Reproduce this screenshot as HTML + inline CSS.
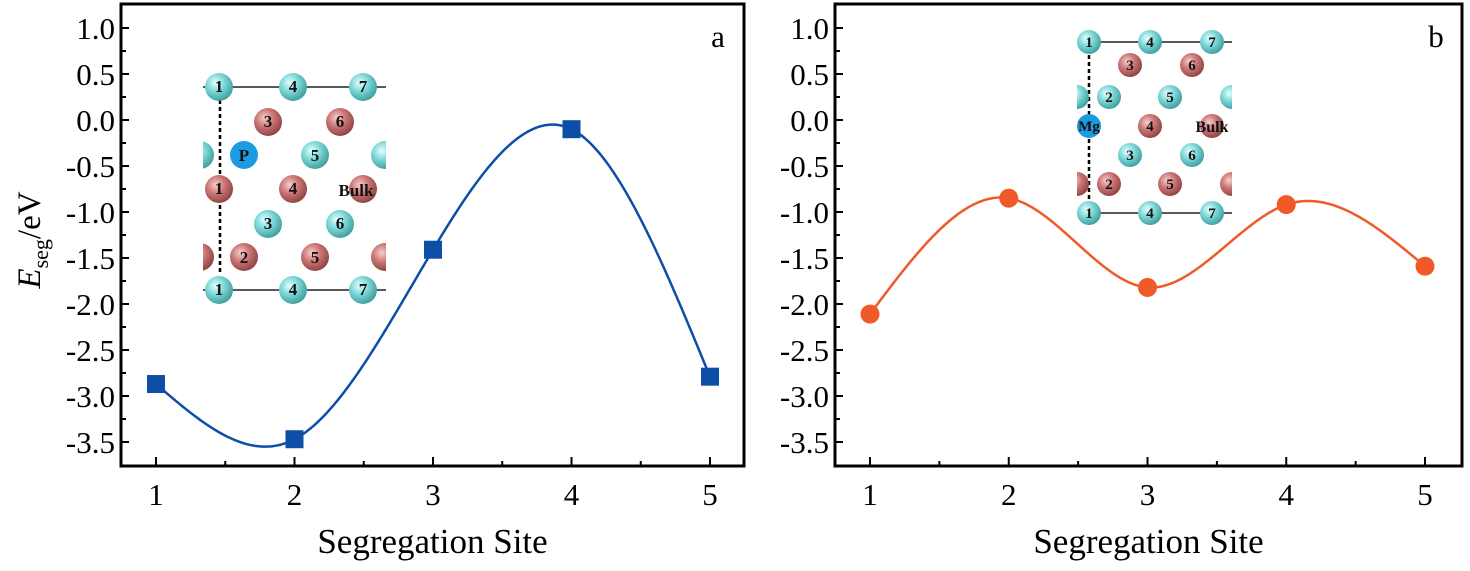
<!DOCTYPE html>
<html><head><meta charset="utf-8"><style>
html,body{margin:0;padding:0;background:#fff;width:1470px;height:571px;overflow:hidden}
svg, svg text{font-family:"Liberation Serif","Times New Roman",serif}
</style></head><body>
<svg id="c" width="1470" height="571" font-family="Liberation Serif, serif" xmlns="http://www.w3.org/2000/svg">
<defs>
<radialGradient id="gc" cx="0.38" cy="0.35" r="0.7"><stop offset="0" stop-color="#e6ffff"/><stop offset="0.45" stop-color="#7fd8d8"/><stop offset="1" stop-color="#3a9a9a"/></radialGradient>
<radialGradient id="gr" cx="0.38" cy="0.35" r="0.7"><stop offset="0" stop-color="#f6d0d0"/><stop offset="0.45" stop-color="#cd7676"/><stop offset="1" stop-color="#8a4040"/></radialGradient>
<clipPath id="clipA"><rect x="203" y="60" width="183" height="250"/></clipPath>
<clipPath id="clipB"><rect x="1077" y="20" width="155" height="210"/></clipPath>
</defs>
</svg>
<script>
const sites=[1,2,3,4,5];
const valuesA=[-2.87,-3.47,-1.41,-0.10,-2.79];
const valuesB=[-2.11,-0.85,-1.82,-0.92,-1.59];
const yTicks=[1.0,0.5,0.0,-0.5,-1.0,-1.5,-2.0,-2.5,-3.0,-3.5];
const yTickLabels=["1.0","0.5","0.0","-0.5","-1.0","-1.5","-2.0","-2.5","-3.0","-3.5"];
const xTickLabels=["1","2","3","4","5"];

const NS="http://www.w3.org/2000/svg";
const svg=document.getElementById('c');
const FONT='Liberation Serif, serif';
function mk(tag,attrs,parent){const e=document.createElementNS(NS,tag);for(const k in attrs)e.setAttribute(k,attrs[k]);if(tag==='text')e.setAttribute('font-family',FONT);(parent||svg).appendChild(e);return e;}
const yScale=v=>120-92*v;

function spline(xs,ys){
  const n=xs.length,h=[],a=[],l=[1],mu=[0],z=[0],c=new Array(n).fill(0),b=[],d=[];
  for(let i=0;i<n-1;i++)h.push(xs[i+1]-xs[i]);
  for(let i=1;i<n-1;i++)a[i]=3/h[i]*(ys[i+1]-ys[i])-3/h[i-1]*(ys[i]-ys[i-1]);
  for(let i=1;i<n-1;i++){l[i]=2*(xs[i+1]-xs[i-1])-h[i-1]*mu[i-1];mu[i]=h[i]/l[i];z[i]=(a[i]-h[i-1]*z[i-1])/l[i];}
  l[n-1]=1;z[n-1]=0;
  for(let j=n-2;j>=0;j--){c[j]=z[j]-mu[j]*c[j+1];b[j]=(ys[j+1]-ys[j])/h[j]-h[j]*(c[j+1]+2*c[j])/3;d[j]=(c[j+1]-c[j])/(3*h[j]);}
  return x=>{let i=0;for(let k=0;k<n-1;k++)if(x>=xs[k]&&x<=xs[k+1]){i=k;break;}const t=x-xs[i];return ys[i]+b[i]*t+c[i]*t*t+d[i]*t*t*t;};
}

function panel(id,left,right,x1,x5,vals,color,marker,letter){
  const g=mk('g',{});
  
  
  const xScale=v=>x1+(v-1)*(x5-x1)/4;
  const frame=mk('rect',{x:left,y:4,width:right-left,height:462,fill:'none',stroke:'#000','stroke-width':3},g);
  
  yTicks.forEach((v,i)=>{
    const y=yScale(v);
    mk('line',{x1:left,x2:left+8,y1:y,y2:y,stroke:'#000','stroke-width':2},g);
    const ym=yScale(v-0.25);
    if(v-0.25>-3.75) mk('line',{x1:left,x2:left+5,y1:ym,y2:ym,stroke:'#000','stroke-width':2},g);
    const t=mk('text',{x:left-6,y:y+11,'text-anchor':'end','font-size':31},g);t.textContent=yTickLabels[i];
    
  });
  sites.forEach((s,i)=>{
    const x=xScale(s);
    mk('line',{x1:x,x2:x,y1:466,y2:457,stroke:'#000','stroke-width':2},g);
    if(i<4){const xm=xScale(s+0.5);mk('line',{x1:xm,x2:xm,y1:466,y2:461,stroke:'#000','stroke-width':2},g);}
    const t=mk('text',{x:x,y:505,'text-anchor':'middle','font-size':31},g);t.textContent=xTickLabels[i];
    
  });
  const f=spline(sites,vals);let d='';
  for(let k=0;k<=400;k++){const v=1+4*k/400;d+=(k?'L':'M')+xScale(v).toFixed(2)+' '+yScale(f(v)).toFixed(2);}
  const p=mk('path',{d:d,fill:'none',stroke:color,'stroke-width':2.5},g);
  
  vals.forEach((v,i)=>{
    const x=xScale(sites[i]),y=yScale(v);let m;
    if(marker==='square')m=mk('rect',{x:x-9,y:y-9,width:18,height:18,fill:color},g);
    else m=mk('circle',{cx:x,cy:y,r:9.5,fill:color},g);
    
  });
  const lt=mk('text',{x:right-26,y:47,'text-anchor':'middle','font-size':31},g);lt.textContent=letter;
  
  const xl=mk('text',{x:(left+right)/2,y:553,'text-anchor':'middle','font-size':35},g);xl.textContent='Segregation Site';
  
}
panel('panel-a',121,744,156,710,valuesA,'#0d4ea6','square','a');
panel('panel-b',835,1462,870,1425,valuesB,'#f05a28','circle','b');

const yl=mk('text',{transform:'translate(40,240) rotate(-90)','text-anchor':'middle','font-size':33});

yl.innerHTML='<tspan font-style="italic">E</tspan><tspan font-size="22" dy="8">seg</tspan><tspan dy="-8">/eV</tspan>';

function inset(name,clip,xs,ys,r,atoms,dashX,dashY1,dashY2,font){
  const g=mk('g',{});
  
  const c=mk('g',{'clip-path':'url(#'+clip+')'},g);
  [ys[0],ys[6]].forEach(y=>mk('line',{x1:xs[0]-20,x2:xs[5]+25,y1:y,y2:y,stroke:'#222','stroke-width':1.5},c));
  mk('line',{x1:dashX,x2:dashX,y1:dashY1,y2:dashY2,stroke:'#000','stroke-width':2.5,'stroke-dasharray':'4 3'},c);
  atoms.forEach(a=>{
    const [ci,ri,type,label]=a;const x=xs[ci],y=ys[ri];
    const fill=type==='c'?'url(#gc)':type==='r'?'url(#gr)':'#1d9be0';
    mk('circle',{cx:x,cy:y,r:r,fill:fill},c);
    if(label){const t=mk('text',{x:x,y:y+5,'text-anchor':'middle','font-size':font,'font-weight':'bold',fill:'#111'},c);t.textContent=label;}
  });
  return c;
}
const ia=inset('inset-structure-a','clipA',[200,219,268,293,340,363,385],[87,122,155,189,224,257,290],14,[
 [1,0,'c','1'],[3,0,'c','4'],[5,0,'c','7'],
 [2,1,'r','3'],[4,1,'r','6'],
 [0,2,'c',''],[6,2,'c',''],
 [1,3,'r','1'],[3,3,'r','4'],[5,3,'r',''],
 [2,4,'c','3'],[4,4,'c','6'],
 [0,5,'r',''],[6,5,'r',''],
 [1,6,'c','1'],[3,6,'c','4'],[5,6,'c','7']],220,100,275,17);
[[244,155,'#1d9be0','P'],[315,155,'url(#gc)','5'],[244,257,'url(#gr)','2'],[315,257,'url(#gr)','5']].forEach(a=>{
  mk('circle',{cx:a[0],cy:a[1],r:14,fill:a[2]},ia);
  const t=mk('text',{x:a[0],y:a[1]+6,'text-anchor':'middle','font-size':17,'font-weight':'bold',fill:'#111'},ia);t.textContent=a[3];
});
const ba=mk('text',{x:356,y:196,'text-anchor':'middle','font-size':17,'font-weight':'bold',fill:'#111'},ia);ba.textContent='Bulk';

const ib=inset('inset-structure-b','clipB',[1077,1089,1130,1150,1192,1212,1232],[42,65,97,126,155,184,213],12,[
 [1,0,'c','1'],[3,0,'c','4'],[5,0,'c','7'],
 [2,1,'r','3'],[4,1,'r','6'],
 [0,2,'c',''],[6,2,'c',''],
 [1,3,'b','Mg'],[3,3,'r','4'],[5,3,'r',''],
 [2,4,'c','3'],[4,4,'c','6'],
 [0,5,'r',''],[6,5,'r',''],
 [1,6,'c','1'],[3,6,'c','4'],[5,6,'c','7']],1089,55,200,15);
[[1109,97,'url(#gc)','2'],[1170,97,'url(#gc)','5'],[1109,184,'url(#gr)','2'],[1170,184,'url(#gr)','5']].forEach(a=>{
  mk('circle',{cx:a[0],cy:a[1],r:12,fill:a[2]},ib);
  const t=mk('text',{x:a[0],y:a[1]+5,'text-anchor':'middle','font-size':15,'font-weight':'bold',fill:'#111'},ib);t.textContent=a[3];
});
const bb=mk('text',{x:1212,y:132,'text-anchor':'middle','font-size':16,'font-weight':'bold',fill:'#111'},ib);bb.textContent='Bulk';
</script>
</body></html>
